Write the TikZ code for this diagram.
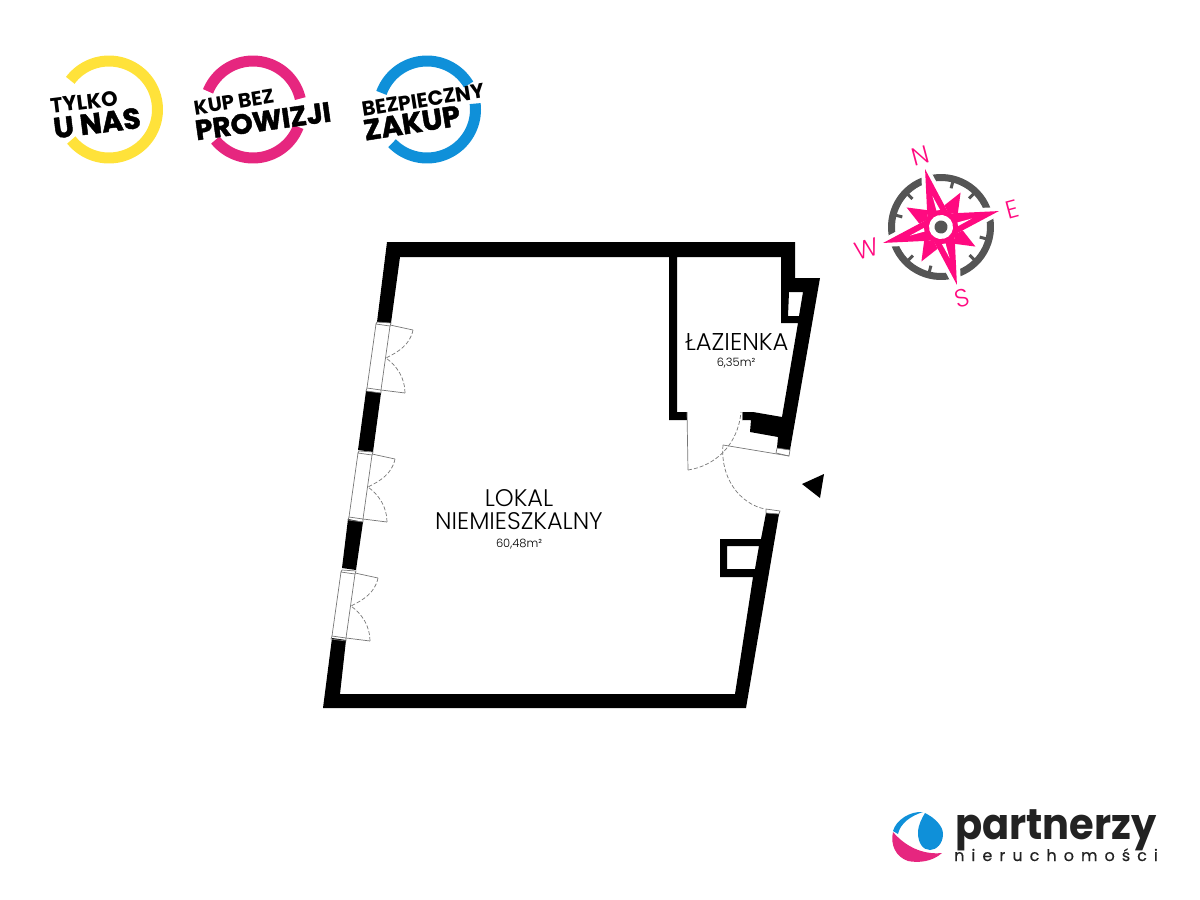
\documentclass[tikz,border=0pt]{standalone}
\usepackage{fontspec}
\setmainfont{Poppins}
\newfontfamily\lightfont{Poppins Light}
\definecolor{ringy}{HTML}{FFE23A}
\definecolor{ringm}{HTML}{E6267F}
\definecolor{ringb}{HTML}{0F90D9}
\definecolor{pinkc}{HTML}{FF0A80}
\definecolor{grayc}{HTML}{555555}
\definecolor{linec}{HTML}{777777}
\definecolor{logok}{HTML}{222222}
\tikzset{
  wall/.style={fill=black, even odd rule},
  thinl/.style={draw=linec, line width=.7pt},
  swing/.style={draw=linec, line width=.7pt, dash pattern=on 4pt off 2pt},
  ringl/.style={line width=11pt},
  badge/.style={font=\bfseries, inner sep=0pt},
  room/.style={inner sep=0pt, text=black, font=\lightfont},
  compl/.style={text=pinkc, inner sep=0pt, rotate=15, font=\lightfont\fontsize{25}{25}\selectfont}
}
\begin{document}
\begin{tikzpicture}[x=1pt, y=-1pt]
  \useasboundingbox (0,0) rectangle (1200,900);

  % badges
  \draw[ringl, color=ringy] plot[domain=219:503, samples=70] ({109+48.5*cos(\x)},{109.5-48.5*sin(\x)});
  \draw[ringl, color=ringm] plot[domain=13:158, samples=40] ({253+48.5*cos(\x)},{109.5-48.5*sin(\x)});
  \draw[ringl, color=ringm] plot[domain=219:339, samples=40] ({253+48.5*cos(\x)},{109.5-48.5*sin(\x)});
  \draw[ringl, color=ringb] plot[domain=31:160, samples=40] ({427+48.5*cos(\x)},{109.5-48.5*sin(\x)});
  \draw[ringl, color=ringb] plot[domain=224:367, samples=40] ({427+48.5*cos(\x)},{109.5-48.5*sin(\x)});

  \node[badge, rotate=7] (tylko) at (84,102) {\fontsize{21}{21}\selectfont TYLKO};
  \node[badge, rotate=7] (unas) at (97,123) {\fontsize{29}{29}\selectfont\addfontfeature{FakeBold=1.5} U NAS};
  \node[badge, rotate=9] (kupbez) at (234,102) {\fontsize{20}{20}\selectfont KUP BEZ};
  \node[badge, rotate=8] (prowizji) at (263,121) {\fontsize{28}{28}\selectfont\addfontfeature{FakeBold=1.5} PROWIZJI};
  \node[badge, rotate=9] (bezp) at (423,100) {\fontsize{20.5}{21}\selectfont BEZPIECZNY};
  \node[badge, rotate=9] (zakup) at (412,123) {\fontsize{29}{29}\selectfont\addfontfeature{FakeBold=1.5} ZAKUP};

  % walls
  \fill[wall] (377,322) -- (387,242) -- (795,242) -- (795,278) -- (820,278) -- (790,450)
    -- (777,448) -- (778,437) -- (750,432) -- (751,420) -- (742,420) -- (742,412) -- (753,412)
    -- (782,417) -- (798,323) -- (781,323) -- (781,257) -- (677,257) -- (677,412) -- (687,412)
    -- (687,420) -- (669,420) -- (669,257) -- (400,257) -- (391,323) -- cycle
    (789,292) -- (803,292) -- (799,316) -- (788,316) -- cycle;
  \fill[wall] (366,391) -- (381,393) -- (373,452) -- (358,450) -- cycle;
  \fill[wall] (348,519) -- (363,522) -- (356,570) -- (342,568) -- cycle;
  \fill[wall] (332,638) -- (346,640) -- (340,694) -- (735,694) -- (753,577) -- (720,577) -- (720,539)
    -- (761,539) -- (766,513) -- (779,514) -- (746,708) -- (323,708) -- cycle
    (727,546) -- (759,546) -- (755,569) -- (727,569) -- cycle;

  % windows
  \foreach \wx/\wy in {0/0, -18/129, -35/248}
  {
    \begin{scope}[shift={(\wx,\wy)}]
      \draw[thinl] (377,322) -- (391,323) -- (390,326) -- (376,324) -- cycle;
      \draw[thinl] (367,388) -- (381,390) -- (381,393) -- (366,391) -- cycle;
      \draw[thinl] (376,324) -- (367,388);
      \draw[thinl] (390,326) -- (381,390);
      \draw[thinl] (390,325) -- (413,330);
      \draw[thinl] (381,390) -- (405,393);
      \draw[swing] (413,330) .. controls (410,345) and (398,352) .. (386,358);
      \draw[swing] (405,393) .. controls (405,378) and (397,366) .. (386,358);
    \end{scope}
  }

  % doors
  \draw[thinl] (687,412) -- (688,470);
  \draw[swing] (688,470) .. controls (715,466) and (738,445) .. (741,412);
  \draw[thinl] (742,412) -- (742,420);
  \draw[thinl] (723,445) -- (789,456);
  \draw[thinl] (777,448) -- (790,450) -- (789,456) -- (776,453) -- cycle;
  \draw[swing] (723,445) .. controls (720,478) and (740,504) .. (765,509);
  \draw[thinl] (766,509) -- (780,511) -- (779,514) -- (766,513) -- cycle;
  \fill[black] (802,484) -- (824,474) -- (820,498) -- cycle;

  % labels
  \node[room] (lokal) at (519,498) {\fontsize{24}{24}\selectfont LOKAL};
  \node[room] (niem) at (519,521) {\fontsize{24}{24}\selectfont NIEMIESZKALNY};
  \node[room] (pow1) at (519,544) {\fontsize{11.5}{12}\selectfont 60,48m²};
  \node[room] (lazienka) at (737,342) {\fontsize{24.3}{24}\selectfont ŁAZIENKA};
  \node[room] (pow2) at (736,363) {\fontsize{11.5}{12}\selectfont 6,35m²};

  % compass
  \begin{scope}[shift={(941,227)}, rotate=15.4]
    \draw[color=grayc, line width=7pt] (0,0) circle (49.5);
    \foreach \a in {30,60,120,150,210,240,300,330}
      \draw[color=grayc, line width=3pt, rotate=\a] (0,-47) -- (0,-40);
    \draw[white, line width=8pt, line join=miter] (0,-60) -- (11,-11) -- (60,0) -- (11,11) -- (0,60)
      -- (-11,11) -- (-60,0) -- (-11,-11) -- cycle;
    \fill[pinkc] (0,-60) -- (11,-11) -- (60,0) -- (11,11) -- (0,60)
      -- (-11,11) -- (-60,0) -- (-11,-11) -- cycle;
    \foreach \a in {0,90,180,270}
    {
      \fill[pinkc, rotate=\a] (9,-20) -- (28,-28) -- (20,-9) -- (11,-11) -- cycle;
      \fill[white, rotate=\a] (0,-32) -- (0,-16) -- (4,-15) -- cycle;
    }
    \fill[pinkc] (0,0) circle (17);
    \fill[white] (0,0) circle (12);
    \fill[grayc] (0,0) circle (6.5);
  \end{scope}
  \node[compl] (north) at (921,156) {N};
  \node[compl] (east) at (1012,209) {E};
  \node[compl] (south) at (962,298) {S};
  \node[compl] (west) at (867,249) {W};

  % logo
  \fill[ringb] (893,831) .. controls (896,820) and (910,811) .. (923,812)
    .. controls (910,816) and (900,824) .. (898,834) -- cycle;
  \fill[ringb] (925,813) .. controls (935,818) and (943,826) .. (943,834)
    .. controls (943,844) and (936,850) .. (930,850) .. controls (923,850) and (918,843) .. (918,833)
    .. controls (918,825) and (922,818) .. (925,813) -- cycle;
  \fill[ringm] (893,832) .. controls (905,846) and (922,855) .. (942,853)
    .. controls (932,862) and (918,863) .. (908,861) .. controls (896,857) and (890,845) .. (893,832) -- cycle;
  \node[inner sep=0pt, anchor=base west, text=logok, xscale=.93, font=\bfseries\fontsize{43}{43}\selectfont] (partnerzy) at (955,839) {partnerzy};
  \node[inner sep=0pt, anchor=base west, text=logok, font=\fontsize{16}{16}\selectfont\addfontfeature{LetterSpace=44,FakeBold=.4}] (nieruch) at (954,861) {nieruchomości};
\end{tikzpicture}
\end{document}
